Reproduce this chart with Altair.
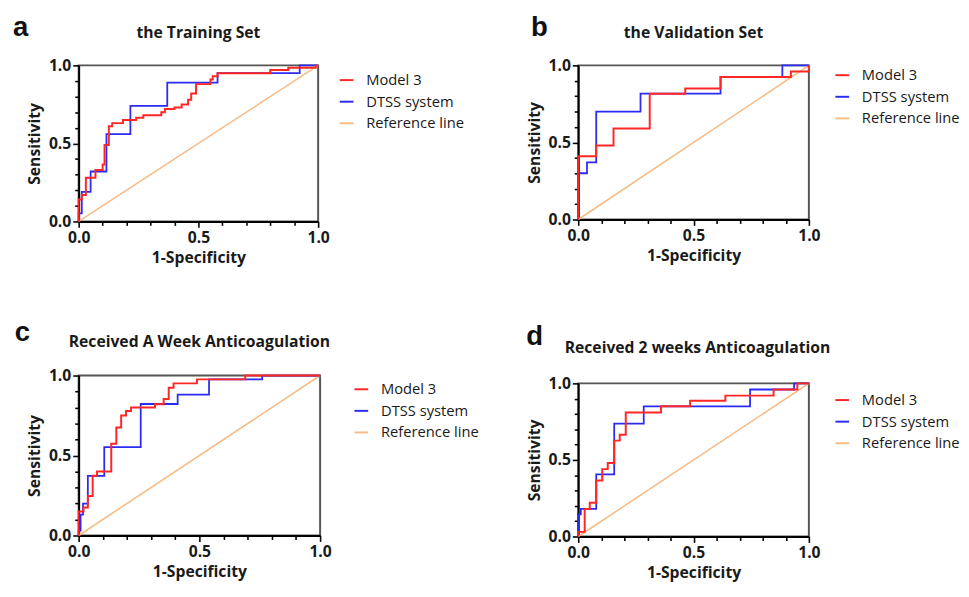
import altair as alt
import pandas as pd

SERIES = ["Model 3", "DTSS system", "Reference line"]
COLORS = ["#FF2626", "#2B2BF2", "#F7BC86"]

TICKS = [0.0, 0.1, 0.2, 0.3, 0.4, 0.5, 0.6, 0.7, 0.8, 0.9, 1.0]
REF_FPR = [0.0, 1.0]
REF_TPR = [0.0, 1.0]

# ---- panel a : the Training Set ----
a_model3_fpr = [0, 0, 0.013, 0.03, 0.07, 0.10, 0.108, 0.126, 0.14, 0.185, 0.24, 0.27, 0.345, 0.36,
                0.40, 0.43, 0.457, 0.47, 0.49, 0.55, 0.56, 0.58, 0.80, 0.875, 0.99, 1.0]
a_model3_tpr = [0, 0.14, 0.17, 0.28, 0.33, 0.365, 0.49, 0.61, 0.63, 0.65, 0.665, 0.68, 0.70, 0.72,
                0.73, 0.75, 0.78, 0.82, 0.88, 0.91, 0.93, 0.95, 0.97, 0.985, 1.0, 1.0]
a_dtss_fpr = [0, 0, 0.013, 0.05, 0.116, 0.216, 0.37, 0.58, 0.923, 1.0]
a_dtss_tpr = [0, 0.052, 0.19, 0.32, 0.56, 0.74, 0.89, 0.95, 1.0, 1.0]

# ---- panel b : the Validation Set ----
b_model3_fpr = [0, 0, 0.078, 0.153, 0.31, 0.464, 0.617, 0.922, 1.0]
b_model3_tpr = [0, 0.41, 0.48, 0.59, 0.816, 0.85, 0.925, 0.96, 1.0]
b_dtss_fpr = [0, 0, 0.038, 0.078, 0.27, 0.617, 0.885, 1.0]
b_dtss_tpr = [0, 0.30, 0.37, 0.70, 0.816, 0.925, 1.0, 1.0]

# ---- panel c : Received A Week Anticoagulation ----
c_model3_fpr = [0, 0, 0.02, 0.038, 0.058, 0.076, 0.135, 0.156, 0.176, 0.196, 0.217, 0.316,
                0.352, 0.373, 0.393, 0.49, 0.69, 1.0]
c_model3_tpr = [0, 0.15, 0.175, 0.247, 0.373, 0.40, 0.573, 0.675, 0.75, 0.778, 0.80, 0.82,
                0.853, 0.924, 0.951, 0.976, 1.0, 1.0]
c_dtss_fpr = [0, 0, 0.008, 0.018, 0.038, 0.106, 0.257, 0.41, 0.54, 0.76, 1.0]
c_dtss_tpr = [0, 0.03, 0.13, 0.2, 0.373, 0.553, 0.822, 0.88, 0.976, 1.0, 1.0]

# ---- panel d : Received 2 weeks Anticoagulation ----
d_model3_fpr = [0, 0, 0.028, 0.05, 0.078, 0.104, 0.128, 0.156, 0.18, 0.206, 0.359, 0.485,
                0.638, 0.847, 0.95, 1.0]
d_model3_tpr = [0, 0.03, 0.18, 0.22, 0.365, 0.44, 0.48, 0.626, 0.665, 0.81, 0.85, 0.887,
                0.92, 0.96, 1.0, 1.0]
d_dtss_fpr = [0, 0, 0.011, 0.078, 0.156, 0.284, 0.745, 0.936, 1.0]
d_dtss_tpr = [0, 0.145, 0.18, 0.406, 0.737, 0.85, 0.96, 1.0, 1.0]

FONT = "Open Sans"
TXT = "#1a1a1a"
MAJOR = "abs(datum.value * 2 - round(datum.value * 2)) < 0.001"


def make_axis(title, title_pad):
    return alt.Axis(
        values=TICKS,
        labelExpr=f"({MAJOR}) ? format(datum.value, '.1f') : ''",
        tickSize={"condition": {"test": MAJOR, "value": 6}, "value": 4},
        tickColor="black", tickWidth=1.6,
        domainColor="black", domainWidth=2,
        labelFont=FONT, labelFontSize=16, labelFontWeight="bold", labelColor=TXT,
        labelFlush=False, labelOverlap=False, labelPadding=2,
        title=title, titleFont=FONT, titleFontSize=16, titleFontWeight="bold",
        titleColor=TXT, titlePadding=title_pad, grid=False,
    )


def panel(letter, title, m_fpr, m_tpr, d_fpr, d_tpr, w, h, ldx, ldy, tdx, tdy, lgx, lgy):
    rows = []
    for s, xs, ys in [("Model 3", m_fpr, m_tpr), ("DTSS system", d_fpr, d_tpr),
                      ("Reference line", REF_FPR, REF_TPR)]:
        for i, (x, y) in enumerate(zip(xs, ys)):
            rows.append({"series": s, "fpr": x, "tpr": y, "i": i})
    df = pd.DataFrame(rows)
    base = alt.Chart(df)
    color = alt.Color(
        "series:N",
        scale=alt.Scale(domain=SERIES, range=COLORS),
        legend=alt.Legend(
            title=None, orient="none", legendX=w + lgx, legendY=lgy,
            symbolType="stroke", symbolSize=196, symbolStrokeWidth=2,
            labelFont=FONT, labelFontSize=15, labelColor=TXT,
            labelOffset=12, rowPadding=6, padding=0,
        ),
    )
    x = alt.X("fpr:Q", scale=alt.Scale(domain=[0, 1], nice=False),
              axis=make_axis("1-Specificity", 5))
    y = alt.Y("tpr:Q", scale=alt.Scale(domain=[0, 1], nice=False),
              axis=make_axis("Sensitivity", 6))
    layers = []
    for s, interp, sw in [("Reference line", "linear", 1.6),
                          ("DTSS system", "step-after", 1.8),
                          ("Model 3", "step-after", 2.0)]:
        layers.append(
            base.transform_filter(alt.datum.series == s)
            .mark_line(interpolate=interp, strokeWidth=sw)
            .encode(x=x, y=y, order="i:Q", color=color)
        )
    letter_t = alt.Chart(pd.DataFrame({"t": [letter]})).mark_text(
        font="Liberation Sans", fontSize=28, fontWeight="bold", color="#111111",
        align="left", baseline="alphabetic",
    ).encode(text="t:N", x=alt.value(ldx), y=alt.value(ldy))
    title_t = alt.Chart(pd.DataFrame({"t": [title]})).mark_text(
        font=FONT, fontSize=16, fontWeight="bold", color=TXT,
        align="center", baseline="alphabetic",
    ).encode(text="t:N", x=alt.value(w / 2 + tdx), y=alt.value(tdy))
    return alt.layer(*layers, letter_t, title_t).properties(width=w, height=h)


pa = panel("a", "the Training Set", a_model3_fpr, a_model3_tpr, a_dtss_fpr, a_dtss_tpr,
           244, 159, -67, -30, 0, -28, 21, 7)
pb = panel("b", "the Validation Set", b_model3_fpr, b_model3_tpr, b_dtss_fpr, b_dtss_tpr,
           235, 157, -48, -30, 0, -28, 26, 2)
pc = panel("c", "Received A Week Anticoagulation", c_model3_fpr, c_model3_tpr, c_dtss_fpr,
           c_dtss_tpr, 246, 163, -65, -35, 0, -29, 34, 6)
pd_ = panel("d", "Received 2 weeks Anticoagulation", d_model3_fpr, d_model3_tpr, d_dtss_fpr,
            d_dtss_tpr, 235, 156, -53, -39, 4, -31, 26, 9)

col1 = alt.vconcat(pa, pc, spacing=53).resolve_scale(color="independent").resolve_legend(color="independent")
col2 = alt.vconcat(pb, pd_, spacing=59).resolve_scale(color="independent").resolve_legend(color="independent")

chart = (
    alt.hconcat(col1, col2, spacing=46)
    .resolve_scale(color="independent")
    .resolve_legend(color="independent")
    .properties(padding={"left": 4, "top": 0, "right": 0, "bottom": 0}, background="white")
    .configure_view(stroke="#555555", strokeWidth=2)
)

chart.save("out.html", embed_options={"renderer": "svg", "actions": False})
